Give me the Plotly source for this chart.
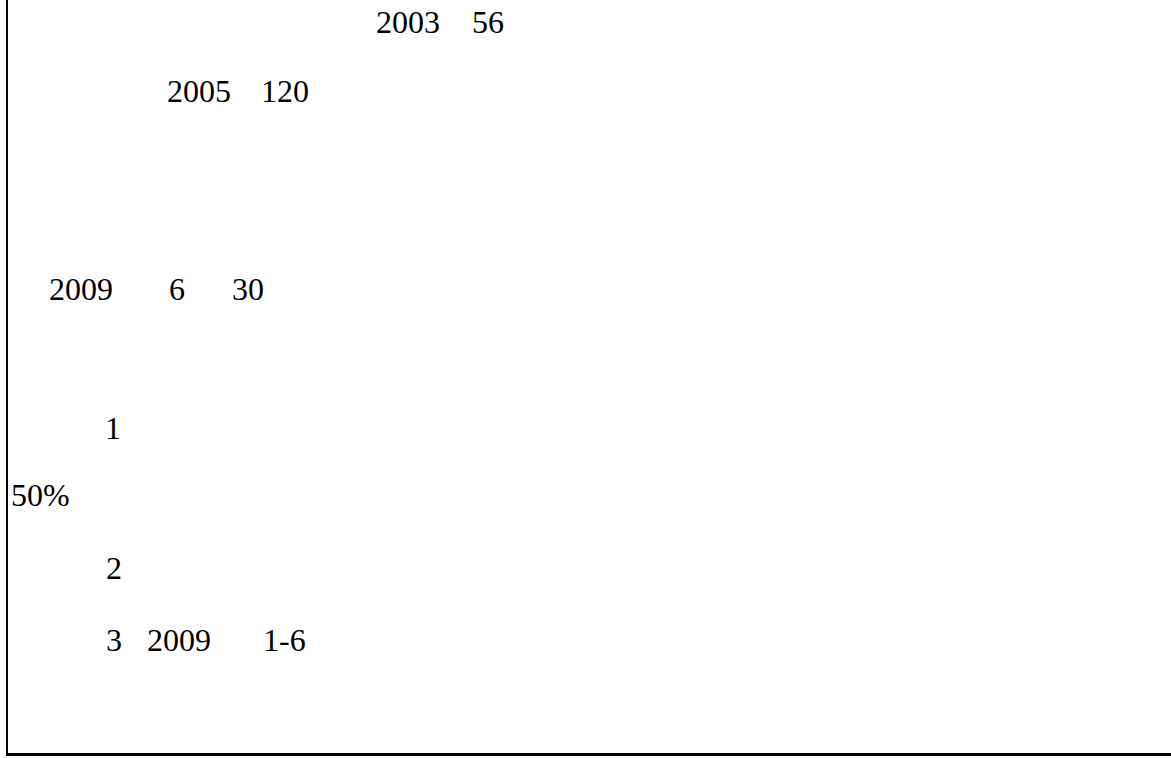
import plotly.graph_objects as go

# Visible text fragments (the source's CJK glyphs were not rendered)
fragments = ["2003", "56", "2005", "120", "2009", "6", "30",
             "1", "50%", "2", "3", "2009", "1-6"]

# Layout positions of the fragments (page pixels: left edge, vertical centre)
frag_x = [375, 471, 166, 260, 48, 168, 231, 104, 10, 105, 105, 146, 262]
frag_y = [21.5, 21.5, 91, 91, 288.5, 288.5, 288.5,
          427.5, 495, 567.5, 639.5, 639.5, 639.5]

W, H = 1171, 758
FW, FH = 1190, 770  # canvas slightly larger than the window; edges fall off-screen

fig = go.Figure()

for t, x, y in zip(fragments, frag_x, frag_y):
    fig.add_annotation(x=x, y=y, text=t, showarrow=False,
                       xanchor="left", yanchor="middle", borderpad=0,
                       font=dict(family="Liberation Serif", size=32,
                                 color="black"))

# white mask over the right edge of the canvas
fig.add_shape(type="rect", xref="x", yref="y", x0=1150, x1=FW + 20,
              y0=-20, y1=751, fillcolor="white", line=dict(width=0),
              layer="above")

# frame lines: left and bottom
fig.add_shape(type="line", xref="x", yref="y", x0=7, x1=7, y0=0, y1=755,
              line=dict(color="black", width=2))
fig.add_shape(type="line", xref="x", yref="y", x0=6, x1=FW, y0=754.5, y1=754.5,
              line=dict(color="black", width=3))

axis_off = dict(visible=False, showline=False, zeroline=False, showgrid=False,
                showticklabels=False, fixedrange=True)
fig.update_layout(
    width=FW, height=FH,
    margin=dict(l=0, r=0, t=0, b=0),
    paper_bgcolor="white", plot_bgcolor="white",
    xaxis=dict(range=[0, FW], **axis_off),
    yaxis=dict(range=[FH, 0], **axis_off),
    showlegend=False,
)

fig.write_html(
    "out.html",
    config={"displayModeBar": False, "staticPlot": True},
    post_script=(
        "document.body.style.margin='0px';"
        "document.body.style.overflow='hidden';"
        "document.documentElement.style.overflow='hidden';"
    ),
)
